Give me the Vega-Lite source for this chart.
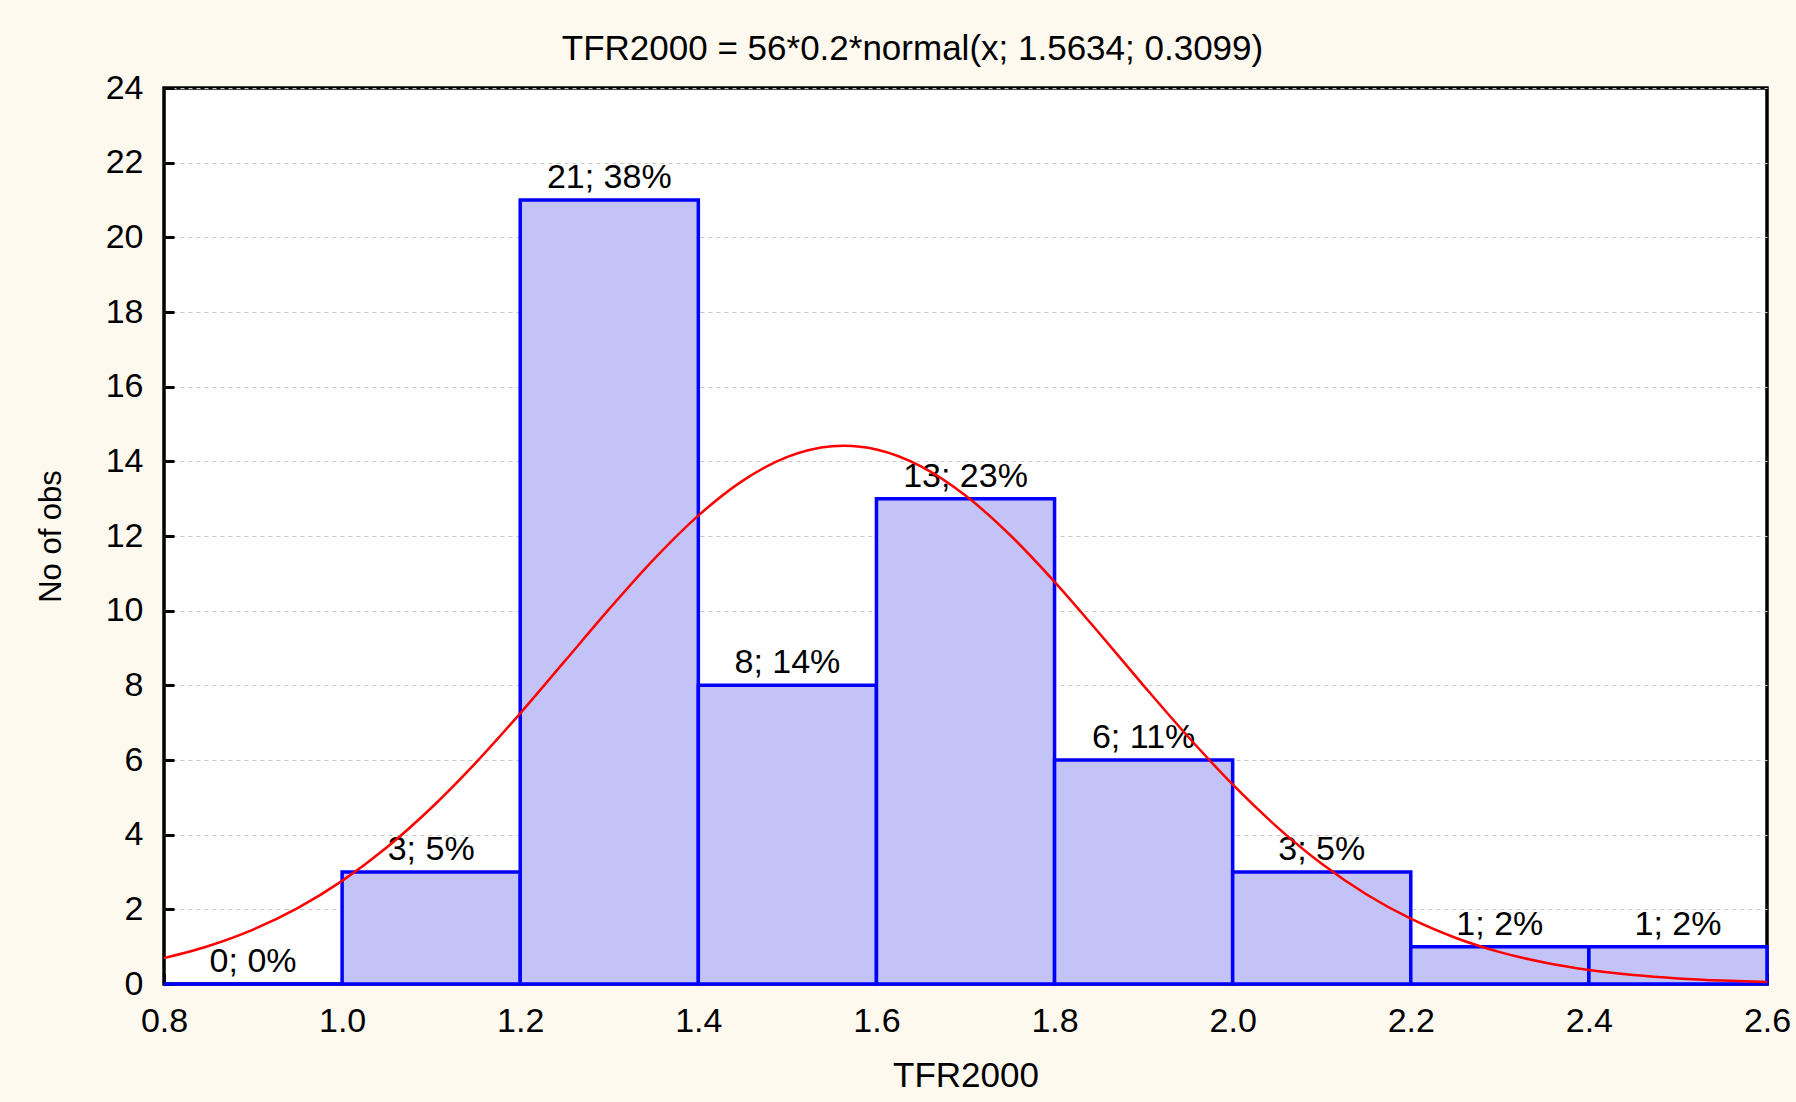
{
  "$schema": "https://vega.github.io/schema/vega-lite/v6.json",
  "autosize": {"type": "none"},
  "width": 1603,
  "height": 896,
  "padding": {"left": 164, "top": 88, "right": 29, "bottom": 118},
  "background": "#fdf9ef",
  "title": {
    "text": "TFR2000 = 56*0.2*normal(x; 1.5634; 0.3099)",
    "font": "Liberation Sans",
    "fontSize": 35,
    "fontWeight": "normal",
    "color": "#000000",
    "anchor": "middle",
    "dx": -53,
    "offset": 4
  },
  "config": {
    "view": {"fill": "white", "stroke": "black", "strokeWidth": 3.5},
    "font": "Liberation Sans"
  },
  "datasets": {
    "bins": [
      {"start": 0.8, "end": 1.0, "mid": 0.9, "count": 0, "label": "0; 0%"},
      {"start": 1.0, "end": 1.2, "mid": 1.1, "count": 3, "label": "3; 5%"},
      {"start": 1.2, "end": 1.4, "mid": 1.3, "count": 21, "label": "21; 38%"},
      {"start": 1.4, "end": 1.6, "mid": 1.5, "count": 8, "label": "8; 14%"},
      {"start": 1.6, "end": 1.8, "mid": 1.7, "count": 13, "label": "13; 23%"},
      {"start": 1.8, "end": 2.0, "mid": 1.9, "count": 6, "label": "6; 11%"},
      {"start": 2.0, "end": 2.2, "mid": 2.1, "count": 3, "label": "3; 5%"},
      {"start": 2.2, "end": 2.4, "mid": 2.3, "count": 1, "label": "1; 2%"},
      {"start": 2.4, "end": 2.6, "mid": 2.5, "count": 1, "label": "1; 2%"}
    ],
    "curve": [
      {"x": 0.80, "y": 0.694}, {"x": 0.85, "y": 1.019}, {"x": 0.90, "y": 1.458},
      {"x": 0.95, "y": 2.033}, {"x": 1.00, "y": 2.762}, {"x": 1.05, "y": 3.656},
      {"x": 1.10, "y": 4.714}, {"x": 1.15, "y": 5.923}, {"x": 1.20, "y": 7.250},
      {"x": 1.25, "y": 8.647}, {"x": 1.30, "y": 10.047}, {"x": 1.35, "y": 11.375},
      {"x": 1.40, "y": 12.547}, {"x": 1.45, "y": 13.484}, {"x": 1.50, "y": 14.119},
      {"x": 1.55, "y": 14.405}, {"x": 1.5634, "y": 14.418}, {"x": 1.60, "y": 14.318},
      {"x": 1.65, "y": 13.866}, {"x": 1.70, "y": 13.083}, {"x": 1.75, "y": 12.027},
      {"x": 1.80, "y": 10.773}, {"x": 1.85, "y": 9.401}, {"x": 1.90, "y": 7.993},
      {"x": 1.95, "y": 6.622}, {"x": 2.00, "y": 5.344}, {"x": 2.05, "y": 4.203},
      {"x": 2.10, "y": 3.220}, {"x": 2.15, "y": 2.404}, {"x": 2.20, "y": 1.748},
      {"x": 2.25, "y": 1.239}, {"x": 2.30, "y": 0.855}, {"x": 2.35, "y": 0.576},
      {"x": 2.40, "y": 0.377}, {"x": 2.45, "y": 0.241}, {"x": 2.50, "y": 0.150},
      {"x": 2.55, "y": 0.091}, {"x": 2.60, "y": 0.054}
    ]
  },
  "layer": [
    {
      "data": {"name": "bins"},
      "mark": {"type": "rect", "fill": "#c3c3f7", "stroke": "#0000ff", "strokeWidth": 3.5},
      "encoding": {
        "x": {
          "field": "start", "type": "quantitative",
          "scale": {"domain": [0.8, 2.6], "nice": false, "zero": false},
          "axis": {
            "values": [0.8, 1.0, 1.2, 1.4, 1.6, 1.8, 2.0, 2.2, 2.4, 2.6],
            "format": ".1f",
            "grid": false,
            "domain": false,
            "tickSize": -10,
            "tickColor": "black",
            "tickWidth": 3,
            "labelPadding": 30,
            "labelFontSize": 34,
            "labelColor": "black",
            "labelFont": "Liberation Sans",
            "labelFlush": false,
            "title": "TFR2000",
            "titleFontSize": 35,
            "titleFontWeight": "normal",
            "titleColor": "black",
            "titleFont": "Liberation Sans",
            "titlePadding": 20
          }
        },
        "x2": {"field": "end"},
        "y": {
          "field": "count", "type": "quantitative",
          "scale": {"domain": [0, 24], "nice": false},
          "axis": {
            "values": [0, 2, 4, 6, 8, 10, 12, 14, 16, 18, 20, 22, 24],
            "grid": true,
            "gridColor": "#c8c8c8",
            "gridDash": [4, 4],
            "gridWidth": 1,
            "domain": false,
            "tickSize": -10,
            "tickColor": "black",
            "tickWidth": 3,
            "labelPadding": 31,
            "labelFontSize": 34,
            "labelColor": "black",
            "labelFont": "Liberation Sans",
            "labelFlush": false,
            "title": "No of obs",
            "titleFontSize": 31,
            "titleFontWeight": "normal",
            "titleColor": "black",
            "titleFont": "Liberation Sans",
            "titlePadding": 38
          }
        },
        "y2": {"datum": 0}
      }
    },
    {
      "data": {"name": "bins"},
      "mark": {"type": "text", "font": "Liberation Sans", "fontSize": 34, "color": "black", "baseline": "alphabetic", "align": "center", "dy": -12},
      "encoding": {
        "x": {"field": "mid", "type": "quantitative"},
        "y": {"field": "count", "type": "quantitative"},
        "text": {"field": "label"}
      }
    },
    {
      "data": {"name": "curve"},
      "mark": {"type": "line", "color": "#ff0000", "strokeWidth": 2.5, "interpolate": "monotone"},
      "encoding": {
        "x": {"field": "x", "type": "quantitative"},
        "y": {"field": "y", "type": "quantitative"}
      }
    }
  ]
}
